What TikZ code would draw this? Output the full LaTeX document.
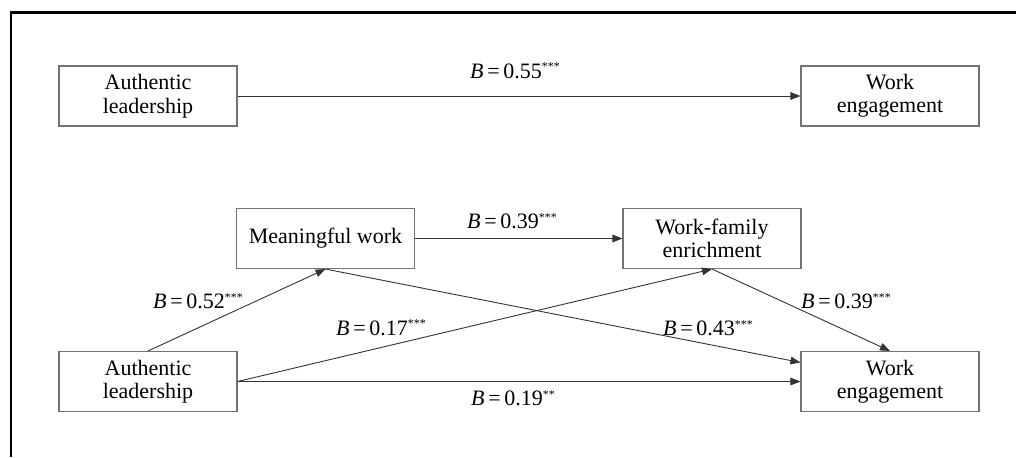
\documentclass[tikz,border=0pt]{standalone}
\usepackage{fontspec}
\setmainfont{Liberation Serif}
\usetikzlibrary{arrows.meta}

\tikzset{
  construct/.style={draw=black!55, line width=0.55pt, fill=white,
    minimum width=89pt, minimum height=30pt, inner sep=2pt,
    align=center, font=\fontsize{11}{11.7}\selectfont},
  path/.style={draw=black!80, line width=0.45pt,
    -{Triangle[length=5pt,width=3.8pt]}},
  coef/.style={anchor=base, inner sep=0pt, font=\fontsize{11}{12}\selectfont},
  frameline/.style={draw=black, line width=1.1pt}
}

% coefficient label: italic B, value and significance stars
\newcommand{\sigstars}[1]{\raisebox{3.6pt}{\fontsize{6}{6}\selectfont#1}}
\newcommand{\coefB}[2]{\textit{B}\,=\,#1\sigstars{#2}}

\begin{document}
\begin{tikzpicture}[x=0.5pt, y=-0.5pt]
  \useasboundingbox (0,0) rectangle (1016,457);

  % open frame: top and left rules
  \draw[frameline] (11,457) -- (11,12.5) -- (1016,12.5);

  % total effect model
  \node[construct] (al1) at (148,96) {Authentic\\leadership};
  \node[construct] (we1) at (890,96) {Work\\engagement};
  \draw[path] (al1.east) -- (we1.west);
  \node[coef] (c55) at (515,78) {\coefB{0.55}{***}};

  % serial mediation model
  \node[construct] (mw)  at (325.5,238.5) {Meaningful work};
  \node[construct] (wfe) at (712,238.5) {Work-family\\enrichment};
  \node[construct] (al2) at (148,381.5) {Authentic\\leadership};
  \node[construct] (we2) at (890,381.5) {Work\\engagement};

  \draw[path] (mw.east) -- (wfe.west);
  \draw[path] (al2.north) -- (mw.south);
  \draw[path] (mw.south) -- (we2.168);
  \draw[path] (al2.east) -- (wfe.south);
  \draw[path] (al2.east) -- (we2.west);
  \draw[path] (wfe.south) -- (we2.north);

  \node[coef] (c39a) at (512,228.3) {\coefB{0.39}{***}};
  \node[coef] (c52)  at (198,308.3) {\coefB{0.52}{***}};
  \node[coef] (c17)  at (381,335)   {\coefB{0.17}{***}};
  \node[coef] (c43)  at (708,335.7) {\coefB{0.43}{***}};
  \node[coef] (c39b) at (846,308.3) {\coefB{0.39}{***}};
  \node[coef] (c19)  at (513,405.7) {\coefB{0.19}{**}};
\end{tikzpicture}
\end{document}
